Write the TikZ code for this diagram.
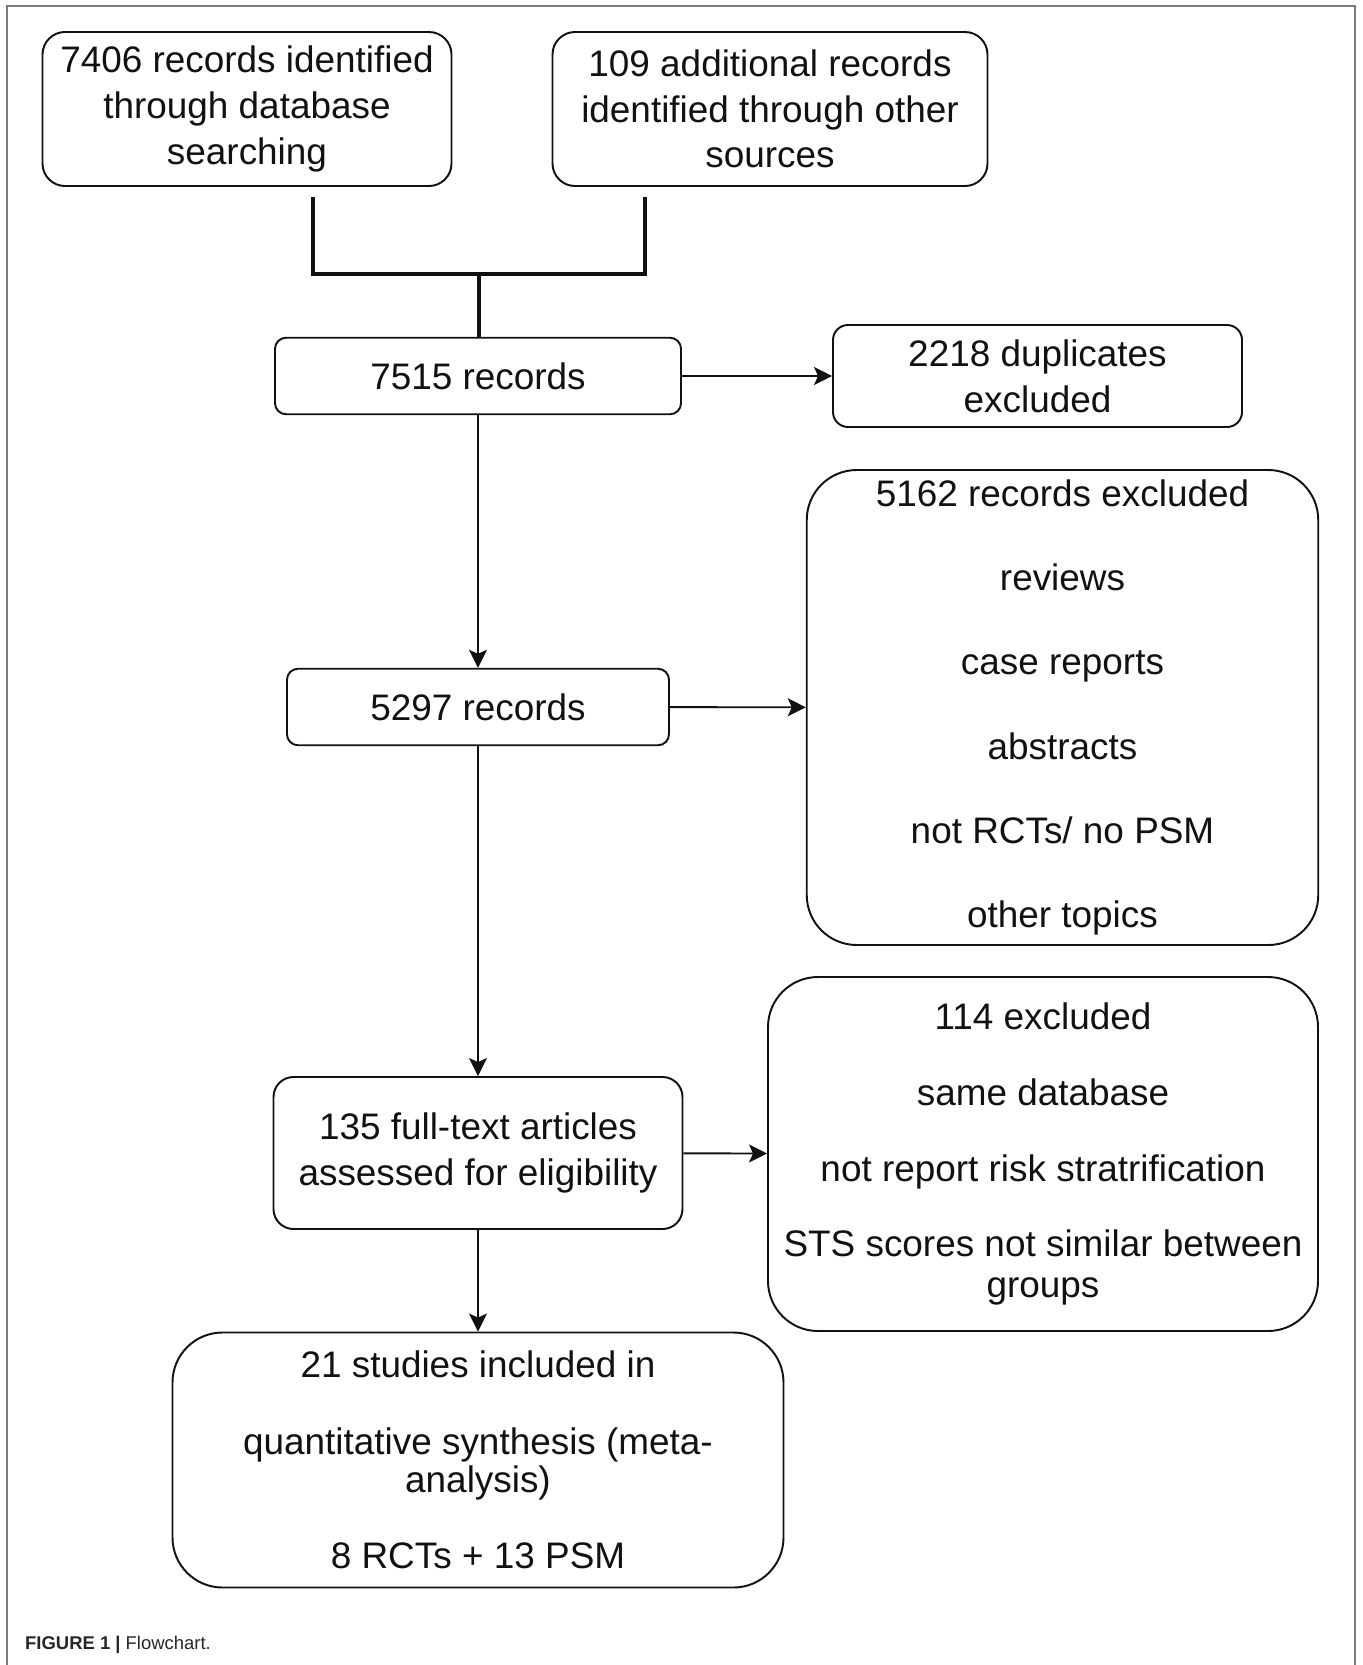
\documentclass[tikz,border=0pt]{standalone}
\usepackage{fontspec}
\setmainfont{Liberation Sans}
\usepackage{tikz}
\usetikzlibrary{arrows.meta,positioning,calc}
\definecolor{ink}{HTML}{111111}
\definecolor{framec}{HTML}{7A7A7A}
\newcommand{\boxfont}{\fontsize{21pt}{26pt}\selectfont}
\tikzset{
  box/.style={draw=ink, line width=1.1pt, align=center, font=\boxfont, text=ink, inner sep=0pt},
  brk/.style={draw=ink, line width=1.9pt},
  arr/.style={-{Stealth[length=0.36cm, width=0.36cm, inset=0.08cm]}, line width=1.1pt, draw=ink},
  frame/.style={draw=framec, line width=1.2pt},
}

\begin{document}
\begin{tikzpicture}
  \useasboundingbox (0,0) rectangle (27.26,-33.3);
  \draw[frame] (0.14,-34) -- (0.14,-0.12) -- (27.1,-0.12) -- (27.1,-34);
  % sources
  \node[box, rounded corners=0.45cm, minimum width=8.18cm, minimum height=3.08cm] (db) at (4.94,-2.18)
    {7406 records identified\\through database\\searching};
  \node[box, rounded corners=0.45cm, minimum width=8.7cm, minimum height=3.08cm] (oth) at (15.4,-2.18)
    {109 additional records\\identified through other\\sources};
  \coordinate (join) at (9.58,-5.48);
  \draw[brk] ([xshift=1.32cm, yshift=-0.2cm]db.south) |- (join) -| ([xshift=-2.5cm, yshift=-0.2cm]oth.south);
  % main column
  \node[box, rounded corners=0.22cm, minimum width=8.12cm, minimum height=1.53cm] (merged) at (9.56,-7.52) {7515 records};
  \node[box, rounded corners=0.3cm, minimum width=8.18cm, minimum height=2.04cm] (dup) at (20.75,-7.52) {2218 duplicates\\excluded};
  \node[box, rounded corners=0.22cm, minimum width=7.64cm, minimum height=1.53cm] (screen) at (9.56,-14.14) {5297 records};
  \node[box, rounded corners=1.0cm, minimum width=10.23cm, minimum height=9.5cm] (excl) at (21.25,-14.15)
    {5162 records excluded\\[21.9pt]reviews\\[21.9pt]case reports\\[21.9pt]abstracts\\[21.9pt]not RCTs/ no PSM\\[21.9pt]other topics};
  \node[box, rounded corners=0.4cm, minimum width=8.18cm, minimum height=3.04cm] (full) at (9.56,-23.06)
    {135 full-text articles\\assessed for eligibility};
  \node[box, rounded corners=1.0cm, minimum width=11.0cm, minimum height=7.08cm] (excl2) at (20.86,-23.08)
    {114 excluded\\[17.2pt]same database\\[17.2pt]not report risk stratrification\\[17.2pt]STS scores not similar between\\[-2.7pt]groups};
  \node[box, rounded corners=1.0cm, minimum width=12.22cm, minimum height=5.1cm] (incl) at (9.56,-29.2)
    {21 studies included in\\[17.5pt]quantitative synthesis (meta-\\[-4.4pt]analysis)\\[17.5pt]8 RCTs + 13 PSM};
  \draw[brk] (join) -- (join |- merged.north);
  \draw[arr] (merged) -- (dup);
  \draw[arr] (merged) -- (screen);
  \draw[arr] (screen) -- (excl);
  \draw[arr] (screen) -- (full);
  \draw[arr] (full) -- (excl2);
  \draw[arr] (full) -- (incl);
  % caption
  \node[anchor=west, font=\fontsize{10.5pt}{12pt}\selectfont, text=black!85] (cap) at (0.38,-32.9)
    {\textbf{FIGURE 1 |} Flowchart.};
\end{tikzpicture}
\end{document}
